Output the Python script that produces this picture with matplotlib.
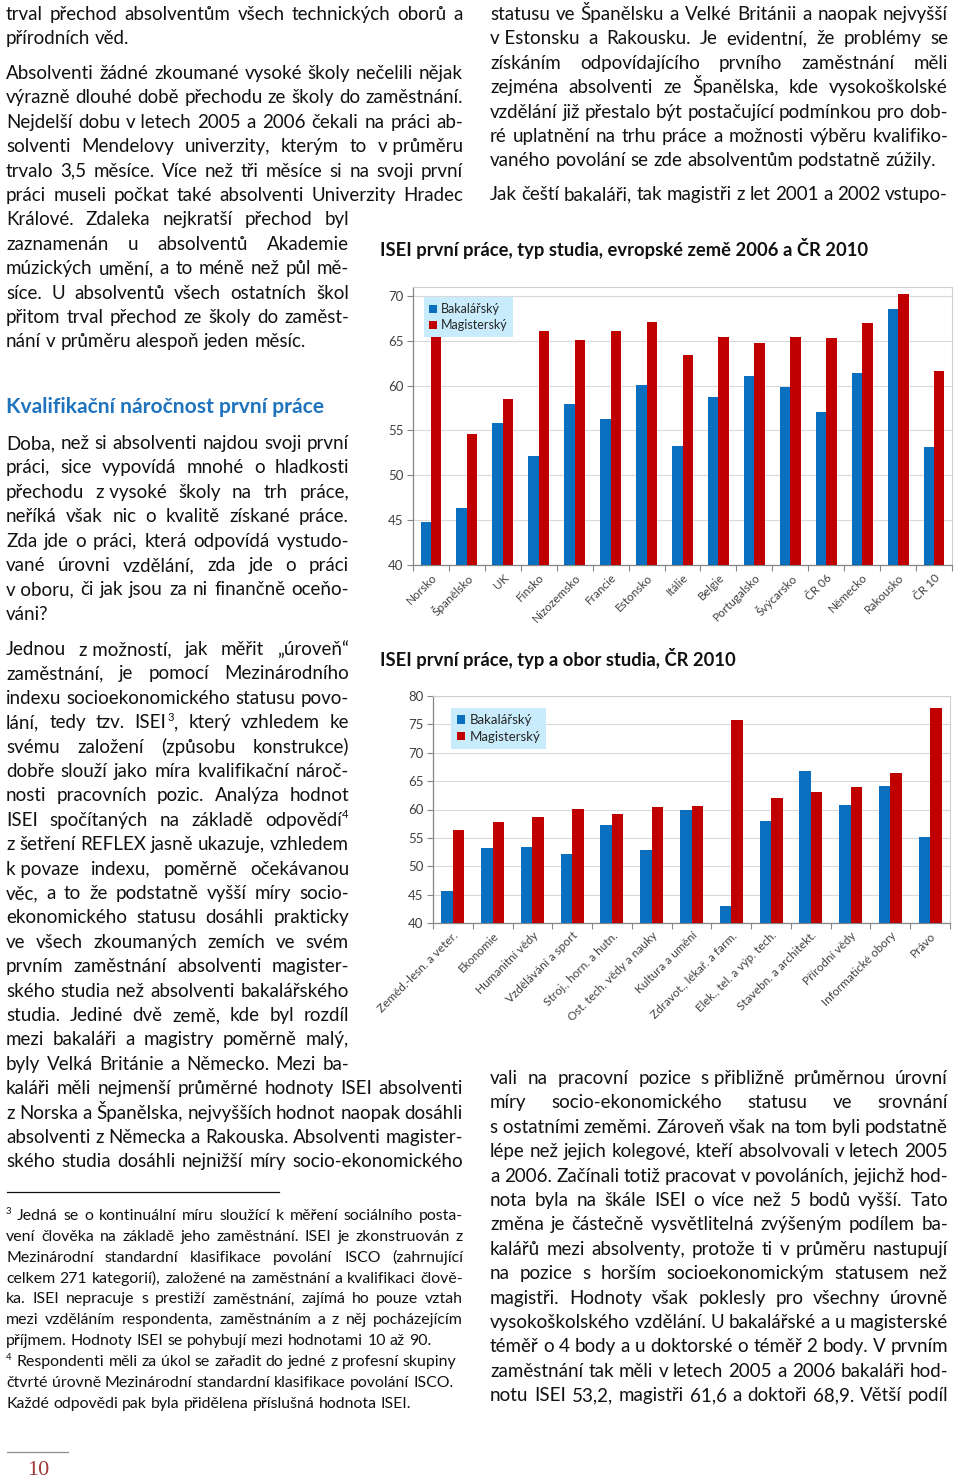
import numpy as np
import matplotlib
matplotlib.use("Agg")
import matplotlib.pyplot as plt
from matplotlib.font_manager import FontProperties

# ---- chart data ----
countries = ["Norsko", "Španělsko", "UK", "Finsko", "Nizozemsko", "Francie", "Estonsko",
             "Itálie", "Belgie", "Portugalsko", "Švýcarsko", "ČR 06", "Německo",
             "Rakousko", "ČR 10"]
country_bak = [44.8, 46.4, 55.8, 52.2, 57.9, 56.3, 60.1, 53.3, 58.7, 61.1, 59.8, 57.1, 61.4, 68.5, 53.2]
country_mag = [65.8, 54.6, 58.5, 66.1, 65.1, 66.1, 67.1, 63.4, 65.4, 64.8, 65.4, 65.3, 67.0, 70.2, 61.6]

fields = ["Zeměd.-lesn. a veter.", "Ekonomie", "Humanitní vědy", "Vzdělávání a sport",
          "Stroj., horn. a hutn.", "Ost. tech. vědy a nauky", "Kultura a umění",
          "Zdravot., lékař. a farm.", "Elek., tel. a výp. tech.", "Stavebn. a architekt.",
          "Přírodní vědy", "Informatické obory", "Právo"]
field_bak = [45.7, 53.3, 53.4, 52.2, 57.3, 52.9, 59.9, 43.0, 57.9, 66.7, 60.8, 64.2, 55.1]
field_mag = [56.4, 57.8, 58.7, 60.1, 59.2, 60.5, 60.6, 75.7, 62.1, 63.0, 64.0, 66.5, 77.9]

series_names = ["Bakalářský", "Magisterský"]
title1 = "ISEI první práce, typ studia, evropské země 2006 a ČR 2010"
title2 = "ISEI první práce, typ a obor studia, ČR 2010"

# ---- page text (line by line as typeset) ----
NB = "\u00a0"
p1 = ["trval přechod absolventům všech technických oborů a",
      "přírodních věd."]
p2 = ["Absolventi žádné zkoumané vysoké školy nečelili nějak",
      "výrazně dlouhé době přechodu ze školy do zaměstnání.",
      "Nejdelší dobu v" + NB + "letech 2005 a 2006 čekali na práci ab-",
      "solventi Mendelovy univerzity, kterým to v" + NB + "průměru",
      "trvalo 3,5 měsíce. Více než tři měsíce si na svoji první",
      "práci museli počkat také absolventi Univerzity Hradec",
      "Králové. Zdaleka nejkratší přechod byl",
      "zaznamenán u absolventů Akademie",
      "múzických umění, a to méně než půl mě-",
      "síce. U absolventů všech ostatních škol",
      "přitom trval přechod ze školy do zaměst-",
      "nání v průměru alespoň jeden měsíc."]
heading = "Kvalifikační náročnost první práce"
p3 = ["Doba, než si absolventi najdou svoji první",
      "práci, sice vypovídá mnohé o hladkosti",
      "přechodu z" + NB + "vysoké školy na trh práce,",
      "neříká však nic o kvalitě získané práce.",
      "Zda jde o práci, která odpovídá vystudo-",
      "vané úrovni vzdělání, zda jde o práci",
      "v" + NB + "oboru, či jak jsou za ni finančně oceňo-",
      "váni?"]
p4 = ["Jednou z" + NB + "možností, jak měřit „úroveň“",
      "zaměstnání, je pomocí Mezinárodního",
      "indexu socioekonomického statusu povo-",
      "lání, tedy tzv. ISEI^3, který vzhledem ke",
      "svému založení (způsobu konstrukce)",
      "dobře slouží jako míra kvalifikační nároč-",
      "nosti pracovních pozic. Analýza hodnot",
      "ISEI spočítaných na základě odpovědí^4",
      "z šetření REFLEX jasně ukazuje, vzhledem",
      "k" + NB + "povaze indexu, poměrně očekávanou",
      "věc, a to že podstatně vyšší míry socio-",
      "ekonomického statusu dosáhli prakticky",
      "ve všech zkoumaných zemích ve svém",
      "prvním zaměstnání absolventi magister-",
      "ského studia než absolventi bakalářského",
      "studia. Jediné dvě země, kde byl rozdíl",
      "mezi bakaláři a magistry poměrně malý,",
      "byly Velká Británie a Německo. Mezi ba-",
      "kaláři měli nejmenší průměrné hodnoty ISEI absolventi",
      "z Norska a Španělska, nejvyšších hodnot naopak dosáhli",
      "absolventi z Německa a Rakouska. Absolventi magister-",
      "ského studia dosáhli nejnižší míry socio-ekonomického"]
p5 = ["statusu ve Španělsku a Velké Británii a naopak nejvyšší",
      "v" + NB + "Estonsku a Rakousku. Je evidentní, že problémy se",
      "získáním odpovídajícího prvního zaměstnání měli",
      "zejména absolventi ze Španělska, kde vysokoškolské",
      "vzdělání již přestalo být postačující podmínkou pro dob-",
      "ré uplatnění na trhu práce a možnosti výběru kvalifiko-",
      "vaného povolání se zde absolventům podstatně zúžily."]
p6 = ["Jak čeští bakaláři, tak magistři z let 2001 a 2002 vstupo-"]
p7 = ["vali na pracovní pozice s" + NB + "přibližně průměrnou úrovní",
      "míry socio-ekonomického statusu ve srovnání",
      "s" + NB + "ostatními zeměmi. Zároveň však na tom byli podstatně",
      "lépe než jejich kolegové, kteří absolvovali v letech 2005",
      "a 2006. Začínali totiž pracovat v povoláních, jejichž hod-",
      "nota byla na škále ISEI o více než 5 bodů vyšší. Tato",
      "změna je částečně vysvětlitelná zvýšeným podílem ba-",
      "kalářů mezi absolventy, protože ti v průměru nastupují",
      "na pozice s horším socioekonomickým statusem než",
      "magistři. Hodnoty však poklesly pro všechny úrovně",
      "vysokoškolského vzdělání. U bakalářské a u magisterské",
      "téměř o 4 body a u doktorské o téměř 2 body. V prvním",
      "zaměstnání tak měli v letech 2005 a 2006 bakaláři hod-",
      "notu ISEI 53,2, magistři 61,6 a doktoři 68,9. Větší podíl"]
fn3 = ["Jedná se o kontinuální míru sloužící k měření sociálního posta-",
       "vení člověka na základě jeho zaměstnání. ISEI je zkonstruován z",
       "Mezinárodní standardní klasifikace povolání ISCO (zahrnující",
       "celkem 271 kategorií), založené na zaměstnání a kvalifikaci člově-",
       "ka. ISEI nepracuje s prestiží zaměstnání, zajímá ho pouze vztah",
       "mezi vzděláním respondenta, zaměstnáním a z něj pocházejícím",
       "příjmem. Hodnoty ISEI se pohybují mezi hodnotami 10 až 90."]
fn4 = ["Respondenti měli za úkol se zařadit do jedné z profesní skupiny",
       "čtvrté úrovně Mezinárodní standardní klasifikace povolání ISCO.",
       "Každé odpovědi pak byla přidělena příslušná hodnota ISEI."]
page_no = "10"

FAM = ["Lato", "DejaVu Sans"]
INK = "#111111"
BLUE = "#0a6fbf"
RED = "#c00000"
W, H = 960, 1482

plt.rcParams["font.family"] = FAM
fig = plt.figure(figsize=(W / 100, H / 100), dpi=100)
page = fig.add_axes([0, 0, 1, 1])
page.set_xlim(0, W)
page.set_ylim(H, 0)
page.axis("off")
renderer = fig.canvas.get_renderer()


def tw(s, size, weight="normal"):
    if not s:
        return 0.0
    prop = FontProperties(family=FAM, size=size, weight=weight)
    return renderer.get_text_width_height_descent(s, prop, ismath=False)[0]


def space_w(size):
    return tw("a a", size) - tw("aa", size)


def word_w(tok, size):
    if "^" in tok:
        base, tail = tok.split("^")
        return tw(base, size) + tw(tail[0], size * 0.6) + 1 + tw(tail[1:], size)
    return tw(tok, size)


def draw_word(x, y, tok, size, color=INK):
    if "^" in tok:
        base, tail = tok.split("^")
        page.text(x, y, base, size=size, color=color, va="baseline", ha="left")
        x += tw(base, size)
        page.text(x + 0.5, y - size * 0.55, tail[0], size=size * 0.6, color=color,
                  va="baseline", ha="left")
        x += tw(tail[0], size * 0.6) + 1
        if tail[1:]:
            page.text(x, y, tail[1:], size=size, color=color, va="baseline", ha="left")
    else:
        page.text(x, y, tok, size=size, color=color, va="baseline", ha="left")


def put_line(line, x0, x1, y, size, justify):
    words = line.split(" ")
    widths = [word_w(w, size) for w in words]
    gap = space_w(size)
    if justify and len(words) > 1:
        gap = (x1 - x0 - sum(widths)) / (len(words) - 1)
    x = x0
    for w, ww in zip(words, widths):
        draw_word(x, y, w, size)
        x += ww + gap


def fit_size(blocks, size0):
    # largest size (<= size0) at which every justified line still fits
    ratio = 1.0
    for lines, x0, rights in blocks:
        for line, x1 in zip(lines, rights):
            words = line.split(" ")
            need = sum(word_w(w, size0) for w in words) + 0.85 * space_w(size0) * (len(words) - 1)
            ratio = min(ratio, (x1 - x0) / need)
    return size0 * ratio


def put_para(lines, x0, rights, y0, pitch, size, last_justified=False):
    if np.isscalar(rights):
        rights = [rights] * len(lines)
    for i, (line, x1) in enumerate(zip(lines, rights)):
        just = last_justified or i < len(lines) - 1
        put_line(line, x0, x1, y0 + i * pitch, size, just)


L0, L1, LN = 6, 463, 349
R0, R1 = 490, 948
PITCH = 24.4

p2_r = [L1] * 6 + [LN] * 6
p4_r = [LN] * 18 + [L1] * 4
body = fit_size([(p1, L0, [L1] * 2), (p2, L0, p2_r), (p3, L0, [LN] * 8), (p4, L0, p4_r),
                 (p5, R0, [R1] * 7), (p6, R0, [R1]), (p7, R0, [R1] * 14)], 13.5)

put_para(p1, L0, L1, 20, PITCH, body)
put_para(p2, L0, p2_r, 79, PITCH, body)
put_para(p3, L0, LN, 449, PITCH, body)
put_para(p4, L0, p4_r, 655, PITCH, body, last_justified=True)
put_para(p5, R0, R1, 20, PITCH, body)
put_para(p6, R0, R1, 200, PITCH, body, last_justified=True)
put_para(p7, R0, R1, 1084, PITCH, body, last_justified=True)

# heading and chart titles, sized to the widths on the page
hs = 14 * 319 / tw(heading, 14, "bold")
page.text(L0, 413, heading, size=hs, weight="bold", color="#1f74bd", va="baseline")
t1s = 13 * 485 / tw(title1, 13, "bold")
page.text(380, 256, title1, size=t1s, weight="bold", color=INK, va="baseline")
page.text(380, 666, title2, size=t1s, weight="bold", color=INK, va="baseline")

# footnotes
fns = fit_size([(fn3[:6], 17, [L1] * 6), (fn4[:1], 17, [453])], 12)
fpitch = 20.85
page.plot([7, 279], [1192, 1192], color=INK, lw=0.9)
page.text(L0, 1220 - 6, "3", size=fns * 0.6, color=INK, va="baseline")
put_line(fn3[0], 17, L1, 1220, fns, True)
put_para(fn3[1:], L0, L1, 1220 + fpitch, fpitch, fns)
page.text(L0, 1220 + 7 * fpitch - 6, "4", size=fns * 0.6, color=INK, va="baseline")
put_line(fn4[0], 17, L1, 1220 + 7 * fpitch, fns, False)
for i, line in enumerate(fn4[1:]):
    put_line(line, L0, L1, 1220 + (8 + i) * fpitch, fns, False)

# page number
page.plot([7, 68], [1452, 1452], color="#8c8c8c", lw=0.9)
page.text(27, 1475, page_no, size=16, family="Liberation Serif", color="#9e3b37", va="baseline")


def bar_chart(box, cats, bak, mag, ylim, yticks, leg_anchor, tick_size, leg_size):
    l, t, r, b = box
    ax = fig.add_axes([l / W, 1 - b / H, (r - l) / W, (b - t) / H])
    x = np.arange(len(cats))
    ax.bar(x - 0.145, bak, 0.29, color=BLUE, label=series_names[0], zorder=3)
    ax.bar(x + 0.145, mag, 0.29, color=RED, label=series_names[1], zorder=3)
    ax.set_xlim(-0.5, len(cats) - 0.5)
    ax.set_ylim(*ylim)
    ax.set_yticks(yticks)
    ax.yaxis.grid(True, color="#d9d9d9", lw=0.8)
    ax.set_axisbelow(True)
    ax.set_xticks(x)
    ax.set_xticklabels(cats, rotation=45, ha="right", rotation_mode="anchor",
                       fontsize=tick_size, color="#404040")
    ax.set_xticks(np.arange(-0.5, len(cats)), minor=True)
    ax.tick_params(axis="x", which="major", length=0, pad=5)
    ax.tick_params(axis="x", which="minor", length=4, color="#868686", width=0.8)
    ax.tick_params(axis="y", length=4, color="#868686", width=0.8, labelsize=9.5,
                   labelcolor="#404040", pad=3)
    for side in ("left", "bottom"):
        ax.spines[side].set_color("#868686")
        ax.spines[side].set_linewidth(0.9)
    for side in ("top", "right"):
        ax.spines[side].set_color("#cfcfcf")
        ax.spines[side].set_linewidth(0.8)
    ax.legend(loc="upper left", bbox_to_anchor=leg_anchor, frameon=True, facecolor="#c8ecfb",
              edgecolor="none", framealpha=1, fancybox=False, handlelength=0.6,
              handleheight=0.6, handletextpad=0.35, borderpad=0.45, labelspacing=0.35,
              fontsize=leg_size, labelcolor="#262626")
    return ax


bar_chart((413, 287, 952, 565), countries, country_bak, country_mag, (40, 71),
          np.arange(40, 71, 5), (0.008, 0.985), 8.5, 9)
bar_chart((433, 696, 950, 923), fields, field_bak, field_mag, (40, 80),
          np.arange(40, 81, 5), (0.022, 0.975), 8.5, 9.5)

fig.savefig("out.png", dpi=100, facecolor="white")
